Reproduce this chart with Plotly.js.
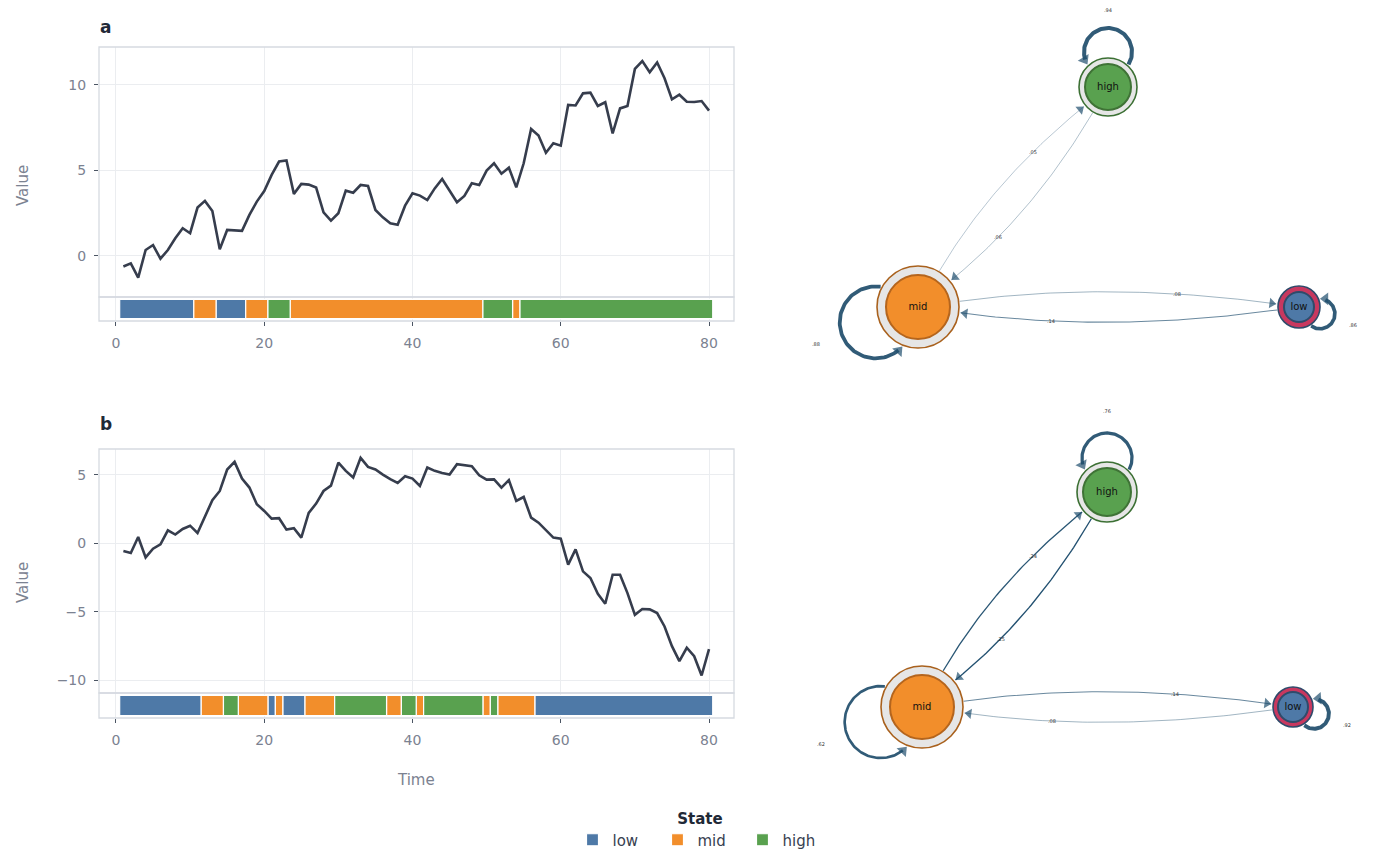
<!DOCTYPE html>
<html>
<head>
<meta charset="utf-8">
<script src="https://cdn.plot.ly/plotly-3.0.1.min.js"></script>
<style>
  html, body { margin: 0; padding: 0; background: #fff; }
  #chart { width: 1400px; height: 866px; }
</style>
</head>
<body>
<div id="chart"></div>
<script>
// ---- data ----
const stateNames = ['low', 'mid', 'high'];

// observed series, one value per time step 1..80
const valueA = [
  -0.62, -0.43, -1.27, 0.35, 0.64, -0.16, 0.35, 1.03, 1.62, 1.33,
  2.83, 3.22, 2.63, 0.39, 1.52, 1.50, 1.47, 2.40, 3.18, 3.80,
  4.74, 5.52, 5.58, 3.63, 4.21, 4.17, 4.00, 2.55, 2.07, 2.50,
  3.82, 3.70, 4.15, 4.09, 2.69, 2.26, 1.91, 1.83, 2.94, 3.66,
  3.53, 3.27, 3.95, 4.50, 3.82, 3.14, 3.51, 4.25, 4.15, 4.99,
  5.42, 4.81, 5.16, 4.01, 5.42, 7.43, 7.04, 6.04, 6.59, 6.45,
  8.83, 8.80, 9.51, 9.55, 8.77, 8.99, 7.17, 8.63, 8.77, 10.94,
  11.40, 10.74, 11.31, 10.39, 9.16, 9.43, 9.02, 9.00, 9.06, 8.50
];
const valueB = [
  -0.56, -0.71, 0.46, -1.03, -0.39, -0.07, 0.95, 0.64, 1.05, 1.29,
  0.76, 1.98, 3.15, 3.83, 5.40, 5.96, 4.74, 4.08, 2.86, 2.37,
  1.81, 1.84, 1.00, 1.10, 0.42, 2.22, 2.91, 3.83, 4.22, 5.91,
  5.30, 4.81, 6.25, 5.59, 5.40, 5.03, 4.69, 4.42, 4.91, 4.74,
  4.20, 5.54, 5.30, 5.15, 5.03, 5.79, 5.71, 5.64, 4.98, 4.66,
  4.68, 4.08, 4.62, 3.10, 3.39, 1.88, 1.51, 1.00, 0.42, 0.34,
  -1.56, -0.44, -2.05, -2.54, -3.69, -4.42, -2.30, -2.30, -3.64, -5.23,
  -4.81, -4.83, -5.10, -6.08, -7.52, -8.62, -7.64, -8.26, -9.67, -7.74
];

// decoded state sequence as runs (state, number of steps)
const runStateA = ['low', 'mid', 'low', 'mid', 'high', 'mid', 'high', 'mid', 'high'];
const runLenA   = [10, 3, 4, 3, 3, 26, 4, 1, 26];
const runStateB = ['low', 'mid', 'high', 'mid', 'low', 'mid', 'low', 'mid', 'high',
                   'mid', 'high', 'mid', 'high', 'mid', 'high', 'mid', 'low'];
const runLenB   = [11, 3, 2, 4, 1, 1, 3, 4, 7, 2, 2, 1, 8, 1, 1, 5, 24];

// transition probabilities
const transFromA = ['high', 'mid', 'low', 'mid', 'high', 'mid', 'low'];
const transToA   = ['high', 'mid', 'low', 'high', 'mid', 'low', 'mid'];
const transProbA = [0.94, 0.88, 0.86, 0.05, 0.06, 0.08, 0.14];
const transFromB = ['high', 'mid', 'low', 'mid', 'high', 'mid', 'low'];
const transToB   = ['high', 'mid', 'low', 'high', 'mid', 'low', 'mid'];
const transProbB = [0.76, 0.62, 0.92, 0.24, 0.25, 0.14, 0.08];

const xTicks = [0, 20, 40, 60, 80];

// ---- styling ----
const W = 1400, H = 866;
const stateColors = { low: '#4e79a7', mid: '#f28e2b', high: '#59a14f' };
const nodeStyle = {
  low:  { ring: '#c8385f', edge: '#2f4b6b', inner: '#2f4b6b' },
  mid:  { ring: '#e6e6e6', edge: '#a9611d', inner: '#b5651d' },
  high: { ring: '#e6e6e6', edge: '#3c7034', inner: '#3f7336' }
};
const gridCol = '#ebedf0', borderCol = '#d6dae1', tickCol = '#7b8291';
const arrowCol = '#1f4e6e';
const FONT = 'DejaVu Sans';

// px helpers (paper coords with zero margins)
const px = v => v / W;
const py = v => 1 - v / H;

// network node placement (screen px)
const netA = {
  high: { x: 1108, y: 87,  r: 29, rin: 23, loopAng: 90,  loopDist: 35, loopR: 24, labelGap: 18 },
  mid:  { x: 918,  y: 307, r: 41, rin: 32, loopAng: 200, loopDist: 45, loopR: 36, labelGap: 28 },
  low:  { x: 1299, y: 307, r: 21, rin: 15, loopAng: -18, loopDist: 22, loopR: 15, labelGap: 20 }
};
const netB = {
  high: { x: 1107, y: 492, r: 30, rin: 24, loopAng: 90,  loopDist: 34, loopR: 25, labelGap: 22 },
  mid:  { x: 922,  y: 707, r: 41, rin: 32, loopAng: 200, loopDist: 44, loopR: 36, labelGap: 28 },
  low:  { x: 1293, y: 707, r: 20, rin: 15, loopAng: -18, loopDist: 22, loopR: 15, labelGap: 20 }
};

const traces = [];
const annotations = [];
const shapes = [];

function timeIndex(values) {
  return values.map((_, i) => i + 1);
}

function addStrip(runState, runLen, xa, ya, legend) {
  let start = 0.5;
  const runs = runState.map((s, i) => {
    const r = { state: s, center: start + runLen[i] / 2, width: runLen[i] };
    start += runLen[i];
    return r;
  });
  stateNames.forEach(s => {
    const mine = runs.filter(r => r.state === s);
    traces.push({
      type: 'bar', name: s, legendgroup: s, showlegend: legend,
      x: mine.map(r => r.center), y: mine.map(() => 1), width: mine.map(r => r.width),
      base: 0, xaxis: xa, yaxis: ya,
      marker: { color: stateColors[s], line: { color: '#ffffff', width: 1.2 } },
      hoverinfo: 'skip'
    });
  });
}

function addLine(values, xa, ya) {
  traces.push({
    type: 'scatter', mode: 'lines', x: timeIndex(values), y: values,
    xaxis: xa, yaxis: ya, showlegend: false, hoverinfo: 'skip',
    line: { color: '#363d4d', width: 2.6 }
  });
}

// thin panel frame around a subplot
function frame(xa, ya) {
  shapes.push({ type: 'rect', xref: xa + ' domain', yref: ya + ' domain', x0: 0, x1: 1, y0: 0, y1: 1,
    line: { color: borderCol, width: 1.3 }, layer: 'above' });
}

const fmt = p => p.toFixed(2).replace(/^0/, '');
function edgeColor(p) {
  const a = Math.min(1, 0.28 + 2.8 * p);
  return 'rgba(31,78,110,' + a.toFixed(2) + ')';
}
// rotation for a triangle-up marker to point along (tx, ty) in screen coords
const headAngle = (tx, ty) => Math.atan2(tx, -ty) * 180 / Math.PI;

function addNetwork(nodes, from, to, prob, xa, ya) {
  const heads = { x: [], y: [], angle: [], size: [] };
  from.forEach((s, i) => {
    const t = to[i], p = prob[i];
    const A = nodes[s], B = nodes[t];
    if (s === t) {
      // self loop: circle beside the node, gap where it meets the node
      const ang = A.loopAng * Math.PI / 180;
      const cx = A.x + A.loopDist * Math.cos(ang), cy = A.y - A.loopDist * Math.sin(ang);
      const R = A.r + 1.5, d = A.loopDist, rl = A.loopR;
      const alpha = Math.acos((d * d + rl * rl - R * R) / (2 * d * rl));
      const th0 = ang + Math.PI + alpha, th1 = ang + 3 * Math.PI - alpha;
      const hs = 11, hr = hs / 2;
      const stop = th1 - hr / rl;
      const xs = [], ys = [];
      for (let k = 0; k <= 80; k++) {
        const th = th0 + (stop - th0) * k / 80;
        xs.push(cx + rl * Math.cos(th));
        ys.push(cy - rl * Math.sin(th));
      }
      const w = Math.max(2.4, 4.3 * p);
      traces.push({ type: 'scatter', mode: 'lines', x: xs, y: ys, xaxis: xa, yaxis: ya,
        line: { color: 'rgba(38,82,112,0.95)', width: w }, showlegend: false, hoverinfo: 'skip' });
      const ex = cx + rl * Math.cos(th1), ey = cy - rl * Math.sin(th1);
      const tx = -Math.sin(th1), ty = -Math.cos(th1);
      heads.x.push(ex - hr * tx); heads.y.push(ey - hr * ty);
      heads.angle.push(headAngle(tx, ty)); heads.size.push(hs);
      const ld = A.loopDist + A.loopR + A.labelGap;
      annotations.push({ x: A.x + ld * Math.cos(ang), y: A.y - ld * Math.sin(ang),
        xref: xa, yref: ya, xanchor: 'center', yanchor: 'middle', text: fmt(p), showarrow: false,
        font: { size: 5, color: '#333333', family: FONT } });
    } else {
      // curved edge, bending to the left of its direction
      const dx = B.x - A.x, dy = B.y - A.y, L = Math.hypot(dx, dy);
      const bend = 26;
      const c = [(A.x + B.x) / 2 + bend * dy / L, (A.y + B.y) / 2 - bend * dx / L];
      const u0 = [c[0] - A.x, c[1] - A.y], n0 = Math.hypot(u0[0], u0[1]);
      const u1 = [c[0] - B.x, c[1] - B.y], n1 = Math.hypot(u1[0], u1[1]);
      const p0 = [A.x + (A.r + 1) * u0[0] / n0, A.y + (A.r + 1) * u0[1] / n0];
      const p1 = [B.x + (B.r + 2) * u1[0] / n1, B.y + (B.r + 2) * u1[1] / n1];
      const bez = tt => {
        const m = 1 - tt;
        return [m * m * p0[0] + 2 * m * tt * c[0] + tt * tt * p1[0],
                m * m * p0[1] + 2 * m * tt * c[1] + tt * tt * p1[1]];
      };
      const xs = [], ys = [];
      for (let k = 0; k <= 60; k++) { const q = bez(k / 60); xs.push(q[0]); ys.push(q[1]); }
      traces.push({ type: 'scatter', mode: 'lines', x: xs, y: ys, xaxis: xa, yaxis: ya,
        line: { color: edgeColor(p), width: 0.6 + 3 * p }, showlegend: false, hoverinfo: 'skip' });
      const tv = [p1[0] - c[0], p1[1] - c[1]], tn = Math.hypot(tv[0], tv[1]);
      const tx = tv[0] / tn, ty = tv[1] / tn, hs = 9, hr = hs / 2;
      heads.x.push(p1[0] - hr * tx); heads.y.push(p1[1] - hr * ty);
      heads.angle.push(headAngle(tx, ty)); heads.size.push(hs);
      const lp = bez(0.7);
      annotations.push({ x: lp[0], y: lp[1], xref: xa, yref: ya, xanchor: 'center', yanchor: 'middle',
        text: fmt(p), showarrow: false, font: { size: 5, color: '#333333', family: FONT } });
    }
  });
  traces.push({ type: 'scatter', mode: 'markers', xaxis: xa, yaxis: ya, showlegend: false, hoverinfo: 'skip',
    x: heads.x, y: heads.y, cliponaxis: false,
    marker: { symbol: 'triangle-up', size: heads.size, angle: heads.angle, color: arrowCol,
      line: { width: 0 } } });
  // nodes: grey ring with coloured border, coloured inner disc
  const names = stateNames;
  traces.push({ type: 'scatter', mode: 'markers', xaxis: xa, yaxis: ya, showlegend: false, hoverinfo: 'skip',
    x: names.map(n => nodes[n].x), y: names.map(n => nodes[n].y),
    marker: { size: names.map(n => 2 * nodes[n].r), color: names.map(n => nodeStyle[n].ring),
      line: { color: names.map(n => nodeStyle[n].edge), width: 1.6 }, opacity: 1 } });
  traces.push({ type: 'scatter', mode: 'markers+text', xaxis: xa, yaxis: ya, showlegend: false, hoverinfo: 'skip',
    x: names.map(n => nodes[n].x), y: names.map(n => nodes[n].y), text: names,
    textposition: 'middle center', textfont: { size: 10, color: '#111111', family: FONT },
    marker: { size: names.map(n => 2 * nodes[n].rin), color: names.map(n => stateColors[n]),
      line: { color: names.map(n => nodeStyle[n].inner), width: 2 }, opacity: 1 } });
}

// ---- build ----
addStrip(runStateA, runLenA, 'x', 'y2', true);
addStrip(runStateB, runLenB, 'x2', 'y4', false);
addLine(valueA, 'x', 'y');
addLine(valueB, 'x2', 'y3');
addNetwork(netA, transFromA, transToA, transProbA, 'x3', 'y5');
addNetwork(netB, transFromB, transToB, transProbB, 'x4', 'y6');
frame('x', 'y'); frame('x', 'y2'); frame('x2', 'y3'); frame('x2', 'y4');

const tickFont = { family: FONT, size: 14, color: tickCol };
const xBase = {
  domain: [px(99), px(734)], range: [-2.29, 83.37], tickvals: xTicks,
  showgrid: true, gridcolor: gridCol, gridwidth: 1, zeroline: false, showline: false,
  ticks: 'outside', ticklen: 4, tickcolor: '#4b5563', tickwidth: 1, tickfont: tickFont,
  ticklabelstandoff: 5
};
const yMain = {
  showgrid: true, gridcolor: gridCol, gridwidth: 1, zeroline: false, showline: false,
  ticks: 'outside', ticklen: 4, tickcolor: '#4b5563', tickwidth: 1, tickfont: tickFont,
  ticklabelstandoff: 5
};
const yStrip = {
  range: [-0.12, 1.12], showgrid: false, zeroline: false, showticklabels: false, ticks: '', showline: false
};
const hidden = { visible: false, showgrid: false, zeroline: false, fixedrange: true };

const layout = {
  width: W, height: H, margin: { l: 0, r: 0, t: 0, b: 0 },
  paper_bgcolor: '#ffffff', plot_bgcolor: '#ffffff',
  font: { family: FONT, color: '#374151' },
  barmode: 'overlay', bargap: 0,
  xaxis:  Object.assign({}, xBase, { anchor: 'y2' }),
  xaxis2: Object.assign({}, xBase, { anchor: 'y4' }),
  yaxis:  Object.assign({}, yMain, { anchor: 'x', domain: [py(297), py(47)], range: [-2.40, 12.22], tickvals: [0, 5, 10] }),
  yaxis2: Object.assign({}, yStrip, { anchor: 'x', domain: [py(321), py(297)] }),
  yaxis3: Object.assign({}, yMain, { anchor: 'x2', domain: [py(693), py(449)], range: [-10.95, 6.9], tickvals: [-10, -5, 0, 5] }),
  yaxis4: Object.assign({}, yStrip, { anchor: 'x2', domain: [py(718), py(693)] }),
  xaxis3: Object.assign({}, hidden, { anchor: 'y5', domain: [px(790), 1], range: [790, 1400] }),
  yaxis5: Object.assign({}, hidden, { anchor: 'x3', domain: [py(400), 1], range: [400, 0] }),
  xaxis4: Object.assign({}, hidden, { anchor: 'y6', domain: [px(790), 1], range: [790, 1400] }),
  yaxis6: Object.assign({}, hidden, { anchor: 'x4', domain: [py(800), py(400)], range: [800, 400] }),
  showlegend: true,
  legend: {
    orientation: 'h', x: 0.5, xanchor: 'center', y: py(804), yanchor: 'top',
    title: { text: '<b>State</b>', side: 'top center', font: { size: 15, color: '#1f2937', family: FONT } },
    font: { size: 15, color: '#374151', family: FONT },
    entrywidth: 40, entrywidthmode: 'pixels', traceorder: 'normal', bgcolor: 'rgba(0,0,0,0)'
  },
  shapes: shapes,
  annotations: annotations.concat([
    { text: '<b>a</b>', xref: 'paper', yref: 'paper', x: px(98), y: py(27), xanchor: 'left', yanchor: 'middle',
      showarrow: false, font: { size: 17, color: '#1f2937', family: FONT } },
    { text: '<b>b</b>', xref: 'paper', yref: 'paper', x: px(98), y: py(424), xanchor: 'left', yanchor: 'middle',
      showarrow: false, font: { size: 17, color: '#1f2937', family: FONT } },
    { text: 'Value', xref: 'paper', yref: 'paper', x: px(23), y: py(186), xanchor: 'center', yanchor: 'middle',
      textangle: -90, showarrow: false, font: { size: 15, color: tickCol, family: FONT } },
    { text: 'Value', xref: 'paper', yref: 'paper', x: px(23), y: py(583), xanchor: 'center', yanchor: 'middle',
      textangle: -90, showarrow: false, font: { size: 15, color: tickCol, family: FONT } },
    { text: 'Time', xref: 'paper', yref: 'paper', x: px(416), y: py(780), xanchor: 'center', yanchor: 'middle',
      showarrow: false, font: { size: 15, color: tickCol, family: FONT } }
  ])
};

Plotly.newPlot('chart', traces, layout, { displayModeBar: false, staticPlot: true });
</script>
</body>
</html>
